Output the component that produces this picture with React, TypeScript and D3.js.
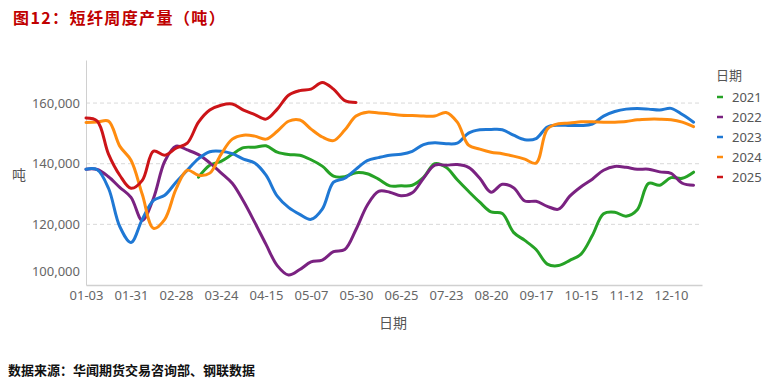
import { useRef, useEffect } from 'react';
import * as d3 from 'd3';

// x ticks, one label every 4 weeks
const tickLabels = ['01-03', '01-31', '02-28', '03-24', '04-15', '05-07', '05-30', '06-25', '07-23', '08-20', '09-17', '10-15', '11-12', '12-10'];

const years = ['2021', '2022', '2023', '2024', '2025'];
const colors = ['#26a226', '#7a2281', '#1f78d4', '#ff8c0f', '#cc1418'];

// weekly output (tons), null where no data
const s2021 = [
  null, null, null, null, null, null, null, null, null, null,
  135550, 139500, 140800, 143100, 145300, 145450, 145900, 143800, 143000, 142800,
  141300, 139200, 135900, 135700, 137050, 136700, 134900, 132700, 132700, 132900,
  135500, 140000, 138800, 134700, 130900, 127300, 124100, 123600, 117350, 114700,
  111700, 106900, 106400, 108100, 110200, 116300, 123500, 124000, 122700, 124800,
  133500, 132900, 135400, 135200, 137200,
];
const s2022 = [
  138200, 138100, 135700, 132200, 128900, 121300, 128600, 140800, 145800, 144550,
  143000, 140300, 137000, 133550, 127600, 120650, 113400, 106400, 103300, 105100,
  107600, 108200, 111000, 111700, 118300, 126300, 130900, 130600, 129400, 130400,
  135200, 139500, 139500, 139700, 138800, 135200, 130600, 133200, 132100, 127700,
  127600, 125950, 125000, 129300, 132400, 134900, 137850, 139100, 138800, 138200,
  138200, 137300, 136850, 133550, 132900,
];
const s2023 = [
  138200, 138000, 131900, 119300, 114000, 121650, 127900, 129600, 133900, 137850,
  141650, 143950, 144100, 143300, 141500, 140200, 136200, 129300, 125600, 123300,
  121650, 125000, 133900, 135200, 138200, 141000, 142000, 142800, 143100, 144100,
  146300, 146900, 146600, 146800, 150100, 151200, 151300, 151200, 149400, 147900,
  148300, 152100, 152700, 152600, 152600, 153100, 155700, 157200, 158000, 158200,
  158000, 157700, 158250, 156200, 153700,
];
const s2024 = [
  153620, 153720, 154050, 145800, 141150, 129900, 118700, 121650, 131600, 137850,
  136200, 136900, 143100, 148100, 149400, 149100, 148100, 150700, 154000, 154400,
  151400, 148800, 147600, 151100, 155700, 157000, 156700, 156400, 156000, 155900,
  155700, 155700, 156900, 153700, 146100, 144800, 143800, 143300, 142500, 141500,
  140200, 151400, 153200, 153400, 153800, 153800, 153700, 153700, 153900, 154500,
  154700, 154700, 154500, 153700, 152200,
];
const s2025 = [
  155040, 154050, 143140, 136200, 131900, 134500, 144130, 142800, 145100, 146780,
  153700, 157700, 159300, 159700, 157700, 156200, 154700, 158000, 162600, 164100,
  164600, 166800, 164600, 160800, 160200,
];
const seriesData = [s2021, s2022, s2023, s2024, s2025];

const yTicks = [100000, 120000, 140000, 160000];

const App = () => {
  const svgRef = useRef<SVGSVGElement>(null);

  useEffect(() => {
    document.body.style.margin = '0';
    if (!svgRef.current) return;

    const width = 777;
    const height = 392;
    const left = 86;
    const right = 702;
    const top = 60;
    const bottom = 285;
    const font = '"Noto Sans", "Noto Sans CJK SC", sans-serif';

    const svg = d3.select(svgRef.current).attr('width', width).attr('height', height);
    svg.selectAll('*').remove();

    const x = d3.scaleLinear().domain([0, 54.75]).range([left, right]);
    const y = d3.scaleLinear().domain([100000, 174200]).range([bottom, top]);

    // title
    svg.append('text')
      .attr('x', 13).attr('y', 24)
      .attr('fill', '#c00000')
      .style('font-family', '"Noto Sans CJK SC", sans-serif')
      .style('font-weight', 'bold')
      .style('font-size', '16px')
      .style('letter-spacing', '1.4px')
      .text('图12：短纤周度产量（吨）');

    // grid
    svg.append('g')
      .selectAll('line')
      .data(yTicks.slice(1))
      .enter()
      .append('line')
      .attr('x1', left).attr('x2', right)
      .attr('y1', (d) => y(d)).attr('y2', (d) => y(d))
      .attr('stroke', '#d9d9d9')
      .attr('stroke-dasharray', '4,3');

    // y axis
    const yAxis = svg.append('g')
      .attr('transform', `translate(${left},0)`)
      .call(d3.axisLeft(y).tickValues(yTicks).tickSize(0).tickPadding(6).tickFormat(d3.format(',')));
    yAxis.select('.domain').attr('stroke', '#d0d0d0');
    yAxis.selectAll('text')
      .attr('fill', '#666')
      .style('font-family', font)
      .style('font-size', '13px');
    yAxis.selectAll('.tick')
      .filter((d) => d === 100000)
      .select('text')
      .attr('dy', '-0.75em');

    svg.append('text')
      .attr('x', 19).attr('y', 176)
      .attr('text-anchor', 'middle')
      .attr('dominant-baseline', 'middle')
      .attr('fill', '#555')
      .style('font-family', '"Noto Sans CJK SC", sans-serif')
      .style('font-size', '14px')
      .text('吨');

    // x axis
    const xAxis = svg.append('g')
      .attr('transform', `translate(0,${bottom})`)
      .call(
        d3.axisBottom(x)
          .tickValues(d3.range(0, tickLabels.length * 4, 4))
          .tickSize(0)
          .tickPadding(6)
          .tickFormat((_, i) => tickLabels[i]),
      );
    xAxis.select('.domain').attr('stroke', '#d0d0d0').attr('stroke-width', 1.5);
    xAxis.selectAll('text')
      .attr('fill', '#666')
      .style('font-family', font)
      .style('font-size', '13px');

    svg.append('text')
      .attr('x', 393).attr('y', 328)
      .attr('text-anchor', 'middle')
      .attr('fill', '#555')
      .style('font-family', '"Noto Sans CJK SC", sans-serif')
      .style('font-size', '14px')
      .text('日期');

    // lines
    const line = d3.line<number | null>()
      .defined((d) => d !== null)
      .x((_, i) => x(i))
      .y((d) => y(d as number))
      .curve(d3.curveCatmullRom.alpha(0.5));

    svg.append('g')
      .selectAll('path')
      .data(seriesData)
      .enter()
      .append('path')
      .attr('d', (d) => line(d))
      .attr('fill', 'none')
      .attr('stroke', (_, i) => colors[i])
      .attr('stroke-width', 3)
      .attr('stroke-linejoin', 'round')
      .attr('stroke-linecap', 'round');

    // legend
    const legend = svg.append('g').attr('transform', 'translate(716,0)');
    legend.append('text')
      .attr('x', 0).attr('y', 80)
      .attr('fill', '#555')
      .style('font-family', '"Noto Sans CJK SC", sans-serif')
      .style('font-size', '13px')
      .text('日期');
    const item = legend.selectAll('g.item')
      .data(years)
      .enter()
      .append('g')
      .attr('class', 'item')
      .attr('transform', (_, i) => `translate(0,${97 + i * 20})`);
    item.append('line')
      .attr('x1', 1).attr('x2', 7)
      .attr('stroke', (_, i) => colors[i])
      .attr('stroke-width', 2.5);
    item.append('text')
      .attr('x', 16).attr('y', 0)
      .attr('dominant-baseline', 'central')
      .attr('fill', '#555')
      .style('font-family', font)
      .style('font-size', '13px')
      .text((d) => d);

    // source
    svg.append('text')
      .attr('x', 8).attr('y', 375)
      .attr('fill', '#111')
      .style('font-family', '"Noto Sans CJK SC", sans-serif')
      .style('font-weight', 'bold')
      .style('font-size', '13px')
      .text('数据来源：华闻期货交易咨询部、钢联数据');
  }, []);

  return <svg ref={svgRef} style={{ display: 'block' }}></svg>;
};

export default App;
